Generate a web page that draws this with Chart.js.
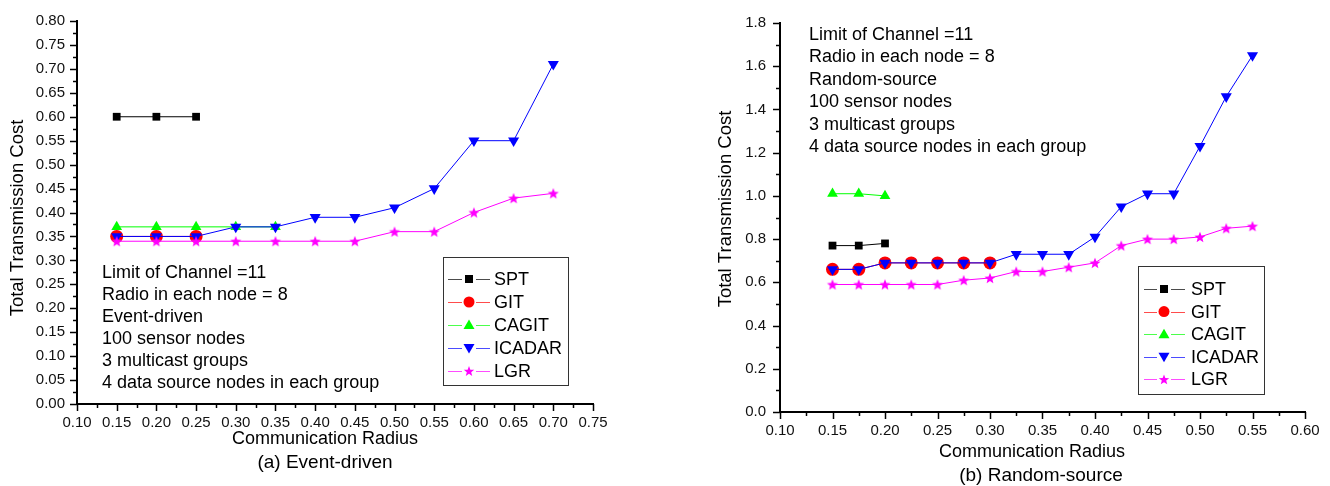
<!DOCTYPE html>
<html><head><meta charset="utf-8">
<script src="https://cdn.jsdelivr.net/npm/chart.js@4.4.0/dist/chart.umd.min.js"></script>
<style>
html,body{margin:0;padding:0;background:#fff;width:1330px;height:486px;overflow:hidden}
#c1{position:absolute;left:0;top:0}
#c2{position:absolute;left:665px;top:0}
</style></head><body>
<canvas id="c1" width="660" height="486"></canvas>
<canvas id="c2" width="665" height="486"></canvas>
<script>
// ---------- data ----------
const seriesNames = ['SPT', 'GIT', 'CAGIT', 'ICADAR', 'LGR'];
const seriesColors = ['#000000', '#ff0000', '#00ff00', '#0000ff', '#ff00ff'];

// (a) Event-driven
const radiusA = [0.15, 0.20, 0.25, 0.30, 0.35, 0.40, 0.45, 0.50, 0.55, 0.60, 0.65, 0.70];
const sptA    = [0.60, 0.60, 0.60];
const gitA    = [0.35, 0.35, 0.35];
const cagitA  = [0.37, 0.37, 0.37, 0.37, 0.37];
const icadarA = [0.35, 0.35, 0.35, 0.37, 0.37, 0.39, 0.39, 0.41, 0.45, 0.55, 0.55, 0.71];
const lgrA    = [0.34, 0.34, 0.34, 0.34, 0.34, 0.34, 0.34, 0.36, 0.36, 0.40, 0.43, 0.44];
const xTickLabelsA = ['0.10','0.15','0.20','0.25','0.30','0.35','0.40','0.45','0.50','0.55','0.60','0.65','0.70','0.75'];
const yTickLabelsA = ['0.00','0.05','0.10','0.15','0.20','0.25','0.30','0.35','0.40','0.45','0.50','0.55','0.60','0.65','0.70','0.75','0.80'];
const notesA = ['Limit of Channel =11', 'Radio in each node = 8', 'Event-driven', '100 sensor nodes', '3 multicast groups', '4 data source nodes in each group'];

// (b) Random-source
const radiusB = [0.15, 0.175, 0.20, 0.225, 0.25, 0.275, 0.30, 0.325, 0.35, 0.375, 0.40, 0.425, 0.45, 0.475, 0.50, 0.525, 0.55];
const sptB    = [0.77, 0.77, 0.78];
const gitB    = [0.66, 0.66, 0.69, 0.69, 0.69, 0.69, 0.69];
const cagitB  = [1.01, 1.01, 1.00];
const icadarB = [0.66, 0.66, 0.69, 0.69, 0.69, 0.69, 0.69, 0.73, 0.73, 0.73, 0.81, 0.95, 1.01, 1.01, 1.23, 1.46, 1.65];
const lgrB    = [0.59, 0.59, 0.59, 0.59, 0.59, 0.61, 0.62, 0.65, 0.65, 0.67, 0.69, 0.77, 0.80, 0.80, 0.81, 0.85, 0.86];
const xTickLabelsB = ['0.10','0.15','0.20','0.25','0.30','0.35','0.40','0.45','0.50','0.55','0.60'];
const yTickLabelsB = ['0.0','0.2','0.4','0.6','0.8','1.0','1.2','1.4','1.6','1.8'];
const notesB = ['Limit of Channel =11', 'Radio in each node = 8', 'Random-source', '100 sensor nodes', '3 multicast groups', '4 data source nodes in each group'];

const xTitle = 'Communication Radius';
const yTitle = 'Total Transmission Cost';
const captionA = '(a) Event-driven';
const captionB = '(b) Random-source';

// ---------- styling helpers ----------
const FONT = '"Liberation Sans", Arial, Helvetica, sans-serif';

function drawStarPath(g, cx, cy, R, r) {
  g.beginPath();
  for (let i = 0; i < 10; i++) {
    const rad = i % 2 === 0 ? R : r;
    const a = -Math.PI / 2 + i * Math.PI / 5;
    const px = cx + rad * Math.cos(a), py = cy + rad * Math.sin(a);
    if (i === 0) g.moveTo(px, py); else g.lineTo(px, py);
  }
  g.closePath();
}
function makeStar(color, R, r) {
  const s = Math.ceil(R * 2 + 2);
  const c = document.createElement('canvas');
  c.width = s; c.height = s;
  const g = c.getContext('2d');
  drawStarPath(g, s / 2, s / 2 + 0.5, R, r);
  g.fillStyle = color; g.fill();
  return c;
}
const starImg = makeStar('#ff00ff', 5.8, 2.5);

const markerStyles = [
  { pointStyle: 'rect', radius: 5.5, rotation: 0 },
  { pointStyle: 'circle', radius: 6.5, rotation: 0 },
  { pointStyle: 'triangle', radius: 6.2, rotation: 0 },
  { pointStyle: 'triangle', radius: 6.4, rotation: 180 },
  { pointStyle: starImg, radius: 6, rotation: 0 }
];

function makeDatasets(radius, seriesList) {
  return seriesList.map((vals, i) => ({
    label: seriesNames[i],
    data: vals.map((v, j) => ({ x: radius[j], y: v })),
    borderColor: seriesColors[i],
    backgroundColor: seriesColors[i],
    borderWidth: 1,
    pointStyle: markerStyles[i].pointStyle,
    pointRadius: markerStyles[i].radius,
    pointRotation: markerStyles[i].rotation,
    pointBackgroundColor: seriesColors[i],
    pointBorderColor: seriesColors[i],
    pointBorderWidth: 0,
    order: seriesNames.length - i,
    tension: 0,
    clip: false
  }));
}

function tickValues(labels) {
  const major = labels.map(parseFloat);
  const all = [];
  for (let i = 0; i < major.length; i++) {
    all.push(major[i]);
    if (i < major.length - 1) all.push((major[i] + major[i + 1]) / 2);
  }
  return all;
}
function labelFor(labels, v) {
  for (const l of labels) if (Math.abs(parseFloat(l) - v) < 1e-9) return l;
  return '';
}

// draws tick marks, notes, legend, titles, caption
const decorPlugin = {
  id: 'decor',
  afterDraw(chart) {
    const d = chart.options.plugins.decor;
    const ctx = chart.ctx;
    ctx.save();
    // tick marks
    ctx.strokeStyle = '#000'; ctx.lineWidth = 1.5;
    const xs = chart.scales.x, ys = chart.scales.y;
    const ca = chart.chartArea;
    xs.ticks.forEach(t => {
      const px = Math.round(xs.getPixelForValue(t.value)) + 0.5;
      const len = t.label ? 7 : 4;
      ctx.beginPath(); ctx.moveTo(px, ca.bottom); ctx.lineTo(px, ca.bottom + len); ctx.stroke();
    });
    ys.ticks.forEach(t => {
      const py = Math.round(ys.getPixelForValue(t.value)) + 0.5;
      const len = t.label ? 7 : 4;
      ctx.beginPath(); ctx.moveTo(ca.left, py); ctx.lineTo(ca.left - len, py); ctx.stroke();
    });
    // notes
    ctx.fillStyle = '#000';
    ctx.font = '18px ' + FONT;
    ctx.textAlign = 'left'; ctx.textBaseline = 'middle';
    d.notes.forEach((s, i) => ctx.fillText(s, d.notesX, d.notesY + i * d.notesDY));
    // legend
    const L = d.legend;
    ctx.lineWidth = 1; ctx.strokeStyle = '#333';
    ctx.strokeRect(L.x0 + 0.5, L.y0 + 0.5, L.x1 - L.x0, L.y1 - L.y0);
    seriesNames.forEach((name, i) => {
      const y = L.rowY + i * L.rowDY;
      const ly = Math.round(y) + 0.5;
      ctx.strokeStyle = seriesColors[i]; ctx.globalAlpha = 0.7; ctx.lineWidth = 1;
      ctx.beginPath();
      ctx.moveTo(L.lineX0, ly); ctx.lineTo(L.markX - 7, ly);
      ctx.moveTo(L.markX + 7, ly); ctx.lineTo(L.lineX1, ly);
      ctx.stroke();
      ctx.globalAlpha = 1;
      ctx.fillStyle = seriesColors[i];
      const mx = L.markX;
      if (i === 0) { ctx.fillRect(mx - 4, y - 4, 8, 8); }
      else if (i === 1) { ctx.beginPath(); ctx.arc(mx, y, 5.5, 0, Math.PI * 2); ctx.fill(); }
      else if (i === 2) { ctx.beginPath(); ctx.moveTo(mx, y - 5.5); ctx.lineTo(mx + 5.5, y + 4); ctx.lineTo(mx - 5.5, y + 4); ctx.closePath(); ctx.fill(); }
      else if (i === 3) { ctx.beginPath(); ctx.moveTo(mx, y + 5.5); ctx.lineTo(mx + 5.5, y - 4); ctx.lineTo(mx - 5.5, y - 4); ctx.closePath(); ctx.fill(); }
      else { drawStarPath(ctx, mx, y + 0.5, 5.5, 2.3); ctx.fill(); }
      ctx.fillStyle = '#000'; ctx.font = '18px ' + FONT;
      ctx.textAlign = 'left'; ctx.textBaseline = 'middle';
      ctx.fillText(name, L.textX, y + 1);
    });
    // axis titles
    ctx.fillStyle = '#000';
    ctx.font = '18px ' + FONT; ctx.textAlign = 'center'; ctx.textBaseline = 'middle';
    ctx.fillText(xTitle, d.xTitleX, d.xTitleY);
    ctx.save();
    ctx.translate(d.yTitleX, d.yTitleY); ctx.rotate(-Math.PI / 2);
    ctx.font = '18.5px ' + FONT;
    ctx.fillText(yTitle, 0, 0);
    ctx.restore();
    // caption
    ctx.font = '19px ' + FONT;
    ctx.fillText(d.caption, d.captionX, d.captionY);
    ctx.restore();
  }
};

function makeChart(canvasId, radius, seriesList, xLabels, yLabels, notes, caption, lay) {
  const xv = tickValues(xLabels), yv = tickValues(yLabels);
  return new Chart(document.getElementById(canvasId), {
    type: 'line',
    data: { datasets: makeDatasets(radius, seriesList) },
    options: {
      responsive: false, animation: false, events: [],
      layout: { padding: lay.padding },
      plugins: {
        legend: { display: false }, tooltip: { enabled: false }, title: { display: false },
        decor: Object.assign({ notes: notes, caption: caption }, lay.decor)
      },
      scales: {
        x: {
          type: 'linear',
          min: parseFloat(xLabels[0]), max: parseFloat(xLabels[xLabels.length - 1]),
          afterBuildTicks: s => { s.ticks = xv.map(v => ({ value: v })); },
          afterFit: s => { s.height = lay.xHeight; },
          grid: { display: false, drawTicks: false },
          border: { display: true, color: '#000', width: 2 },
          ticks: {
            autoSkip: false, maxRotation: 0, padding: 10, color: '#111',
            font: { family: FONT, size: 15 },
            callback: v => labelFor(xLabels, v)
          },
          title: { display: false }
        },
        y: {
          type: 'linear',
          min: parseFloat(yLabels[0]), max: parseFloat(yLabels[yLabels.length - 1]),
          afterBuildTicks: s => { s.ticks = yv.map(v => ({ value: v })); },
          afterFit: s => { s.width = lay.yWidth; },
          grid: { display: false, drawTicks: false },
          border: { display: true, color: '#000', width: 2 },
          ticks: {
            autoSkip: false, padding: lay.yPad, color: '#111',
            font: { family: FONT, size: 15 },
            callback: v => labelFor(yLabels, v)
          },
          title: { display: false }
        }
      }
    },
    plugins: [decorPlugin]
  });
}

makeChart('c1', radiusA, [sptA, gitA, cagitA, icadarA, lgrA], xTickLabelsA, yTickLabelsA, notesA, captionA, {
  padding: { left: 0, top: 19, right: 67, bottom: 0 },
  xHeight: 82, yWidth: 77, yPad: 12,
  decor: {
    notesX: 102, notesY: 273, notesDY: 22,
    legend: { x0: 443, y0: 257, x1: 568, y1: 385, rowY: 279, rowDY: 23, lineX0: 448, lineX1: 490, markX: 469, textX: 494 },
    xTitleX: 325, xTitleY: 439, yTitleX: 18, yTitleY: 218,
    captionX: 325, captionY: 463
  }
});

makeChart('c2', radiusB, [sptB, gitB, cagitB, icadarB, lgrB], xTickLabelsB, yTickLabelsB, notesB, captionB, {
  padding: { left: 0, top: 21, right: 25, bottom: 0 },
  xHeight: 74, yWidth: 115, yPad: 14,
  decor: {
    notesX: 144, notesY: 35, notesDY: 22.5,
    legend: { x0: 473, y0: 266, x1: 599, y1: 394, rowY: 289, rowDY: 22.6, lineX0: 479, lineX1: 520, markX: 499, textX: 526 },
    xTitleX: 367, xTitleY: 452, yTitleX: 61, yTitleY: 209,
    captionX: 376, captionY: 476
  }
});
</script>
</body></html>
